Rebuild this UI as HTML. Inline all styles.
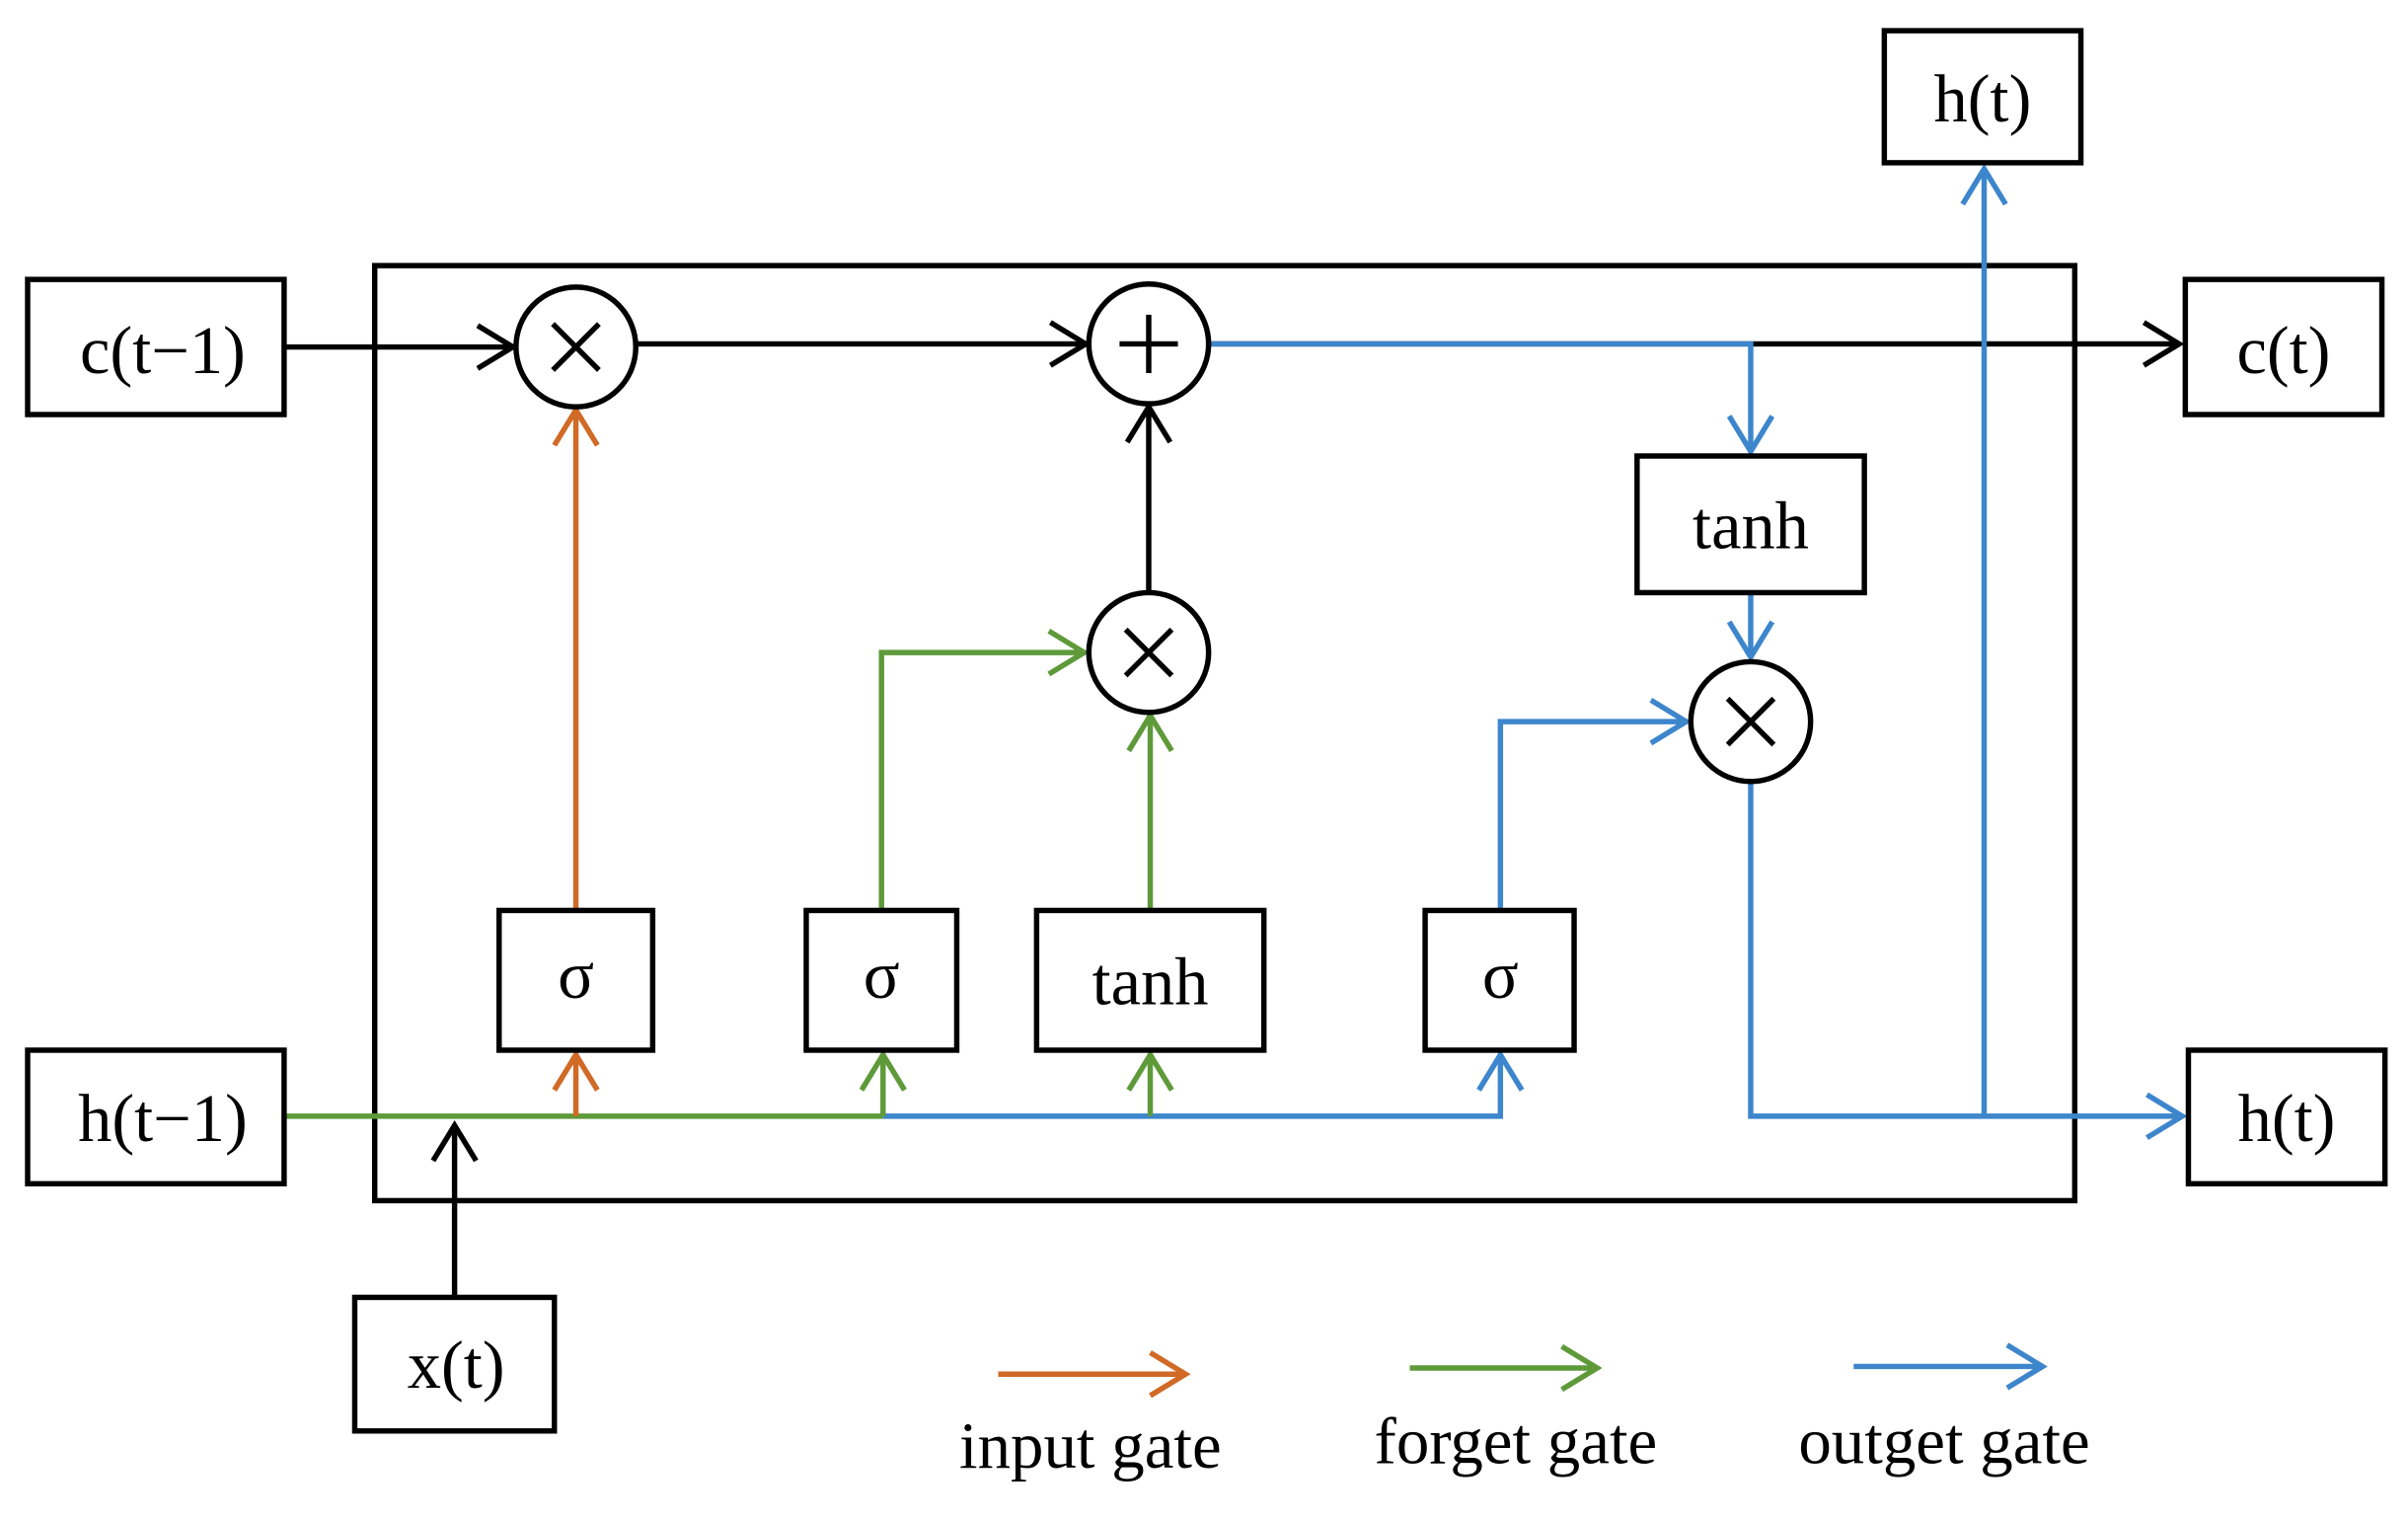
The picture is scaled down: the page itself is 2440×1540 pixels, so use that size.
<!DOCTYPE html>
<html><head><meta charset="utf-8"><style>html,body{margin:0;padding:0;background:#fff}svg{display:block}</style></head><body>
<svg width="2440" height="1540" viewBox="0 0 1568 990" preserveAspectRatio="none" xmlns="http://www.w3.org/2000/svg" font-family="Liberation Serif, serif">
<defs>
<marker id="ak" markerWidth="40" markerHeight="40" refX="26" refY="16" orient="auto" markerUnits="userSpaceOnUse"><path d="M3,2 L26,16 L3,30" fill="none" stroke="#000" stroke-width="3.5"/></marker>
<marker id="ab" markerWidth="40" markerHeight="40" refX="26" refY="16" orient="auto" markerUnits="userSpaceOnUse"><path d="M3,2 L26,16 L3,30" fill="none" stroke="#3d86cc" stroke-width="3.5"/></marker>
<marker id="ag" markerWidth="40" markerHeight="40" refX="26" refY="16" orient="auto" markerUnits="userSpaceOnUse"><path d="M3,2 L26,16 L3,30" fill="none" stroke="#5e9a3a" stroke-width="3.5"/></marker>
<marker id="ao" markerWidth="40" markerHeight="40" refX="26" refY="16" orient="auto" markerUnits="userSpaceOnUse"><path d="M3,2 L26,16 L3,30" fill="none" stroke="#d06a26" stroke-width="3.5"/></marker>
</defs>
<g fill="none" stroke-width="3.5">
<rect x="244" y="173" width="1107" height="609" stroke="#000"/>
<line x1="185" y1="226" x2="334" y2="226" stroke="#000" marker-end="url(#ak)"/>
<line x1="414" y1="224" x2="707" y2="224" stroke="#000" marker-end="url(#ak)"/>
<line x1="787" y1="224" x2="1419" y2="224" stroke="#000" marker-end="url(#ak)"/>
<line x1="748" y1="386" x2="748" y2="265" stroke="#000" marker-end="url(#ak)"/>
<line x1="296" y1="845" x2="296" y2="733" stroke="#000" marker-end="url(#ak)"/>
<g stroke="#3d86cc">
<polyline points="787,224 1140,224 1140,294" marker-end="url(#ab)"/>
<line x1="1140" y1="386" x2="1140" y2="428" marker-end="url(#ab)"/>
<polyline points="1140,509 1140,727 1421,727" marker-end="url(#ab)"/>
<line x1="1292" y1="727" x2="1292" y2="110" marker-end="url(#ab)"/>
<polyline points="977,593 977,470 1098,470" marker-end="url(#ab)"/>
<polyline points="575,727 977,727 977,687" marker-end="url(#ab)"/>
</g>
<g stroke="#5e9a3a">
<line x1="185" y1="727" x2="575" y2="727"/>
<line x1="575" y1="727" x2="575" y2="687" marker-end="url(#ag)"/>
<line x1="749" y1="727" x2="749" y2="687" marker-end="url(#ag)"/>
<polyline points="574,593 574,425 706,425" marker-end="url(#ag)"/>
<line x1="749" y1="593" x2="749" y2="466" marker-end="url(#ag)"/>
</g>
<g stroke="#d06a26">
<line x1="375" y1="727" x2="375" y2="687" marker-end="url(#ao)"/>
<line x1="375" y1="593" x2="375" y2="267" marker-end="url(#ao)"/>
</g>
<g stroke="#000" fill="#fff">
<rect x="18" y="182" width="167" height="88"/>
<rect x="18" y="684" width="167" height="87"/>
<rect x="231" y="845" width="130" height="87"/>
<rect x="1227" y="20" width="128" height="86"/>
<rect x="1423" y="182" width="128" height="88"/>
<rect x="1425" y="684" width="128" height="87"/>
<rect x="1066" y="297" width="148" height="89"/>
<rect x="325" y="593" width="100" height="91"/>
<rect x="525" y="593" width="98" height="91"/>
<rect x="675" y="593" width="148" height="91"/>
<rect x="928" y="593" width="97" height="91"/>
<circle cx="375" cy="226" r="39"/>
<circle cx="748" cy="224" r="39"/>
<circle cx="748" cy="425" r="39"/>
<circle cx="1140" cy="470" r="39"/>
</g>
<g stroke="#000" stroke-width="3.5">
<line x1="360" y1="211" x2="390" y2="241"/><line x1="390" y1="211" x2="360" y2="241"/>
<line x1="733" y1="410" x2="763" y2="440"/><line x1="763" y1="410" x2="733" y2="440"/>
<line x1="1125" y1="455" x2="1155" y2="485"/><line x1="1155" y1="455" x2="1125" y2="485"/>
<line x1="748" y1="205" x2="748" y2="243"/><line x1="729" y1="224" x2="767" y2="224"/>
</g>
<line x1="650" y1="895" x2="772" y2="895" stroke="#d06a26" marker-end="url(#ao)"/>
<line x1="918" y1="891" x2="1040" y2="891" stroke="#5e9a3a" marker-end="url(#ag)"/>
<line x1="1207" y1="890" x2="1330" y2="890" stroke="#3d86cc" marker-end="url(#ab)"/>
</g>
<g font-size="44" text-anchor="middle" fill="#000">
<text x="106" y="243">c(t−1)</text>
<text x="106" y="743">h(t−1)</text>
<text x="297" y="904">x(t)</text>
<text x="1291" y="79">h(t)</text>
<text x="1487" y="243">c(t)</text>
<text x="1489" y="743">h(t)</text>
<text x="1140" y="357">tanh</text>
<text x="749" y="654">tanh</text>
<text x="375" y="650">σ</text>
<text x="574" y="650">σ</text>
<text x="977" y="650">σ</text>
<text x="710" y="956" font-size="43">input gate</text>
<text x="987" y="953" font-size="43">forget gate</text>
<text x="1266" y="953" font-size="43">outget gate</text>
</g>
</svg>
</body></html>
